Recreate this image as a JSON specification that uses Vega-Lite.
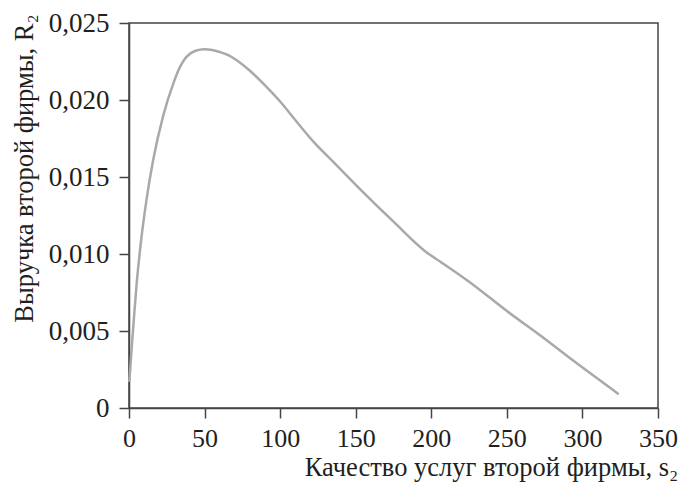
{
  "$schema": "https://vega.github.io/schema/vega-lite/v6.json",
  "autosize": "none",
  "width": 529,
  "height": 385,
  "padding": {"left": 129, "top": 23, "right": 24, "bottom": 84},
  "background": "white",
  "data": {"values": [
    {"s": 0.2, "R": 0.0017},
    {"s": 1, "R": 0.0028},
    {"s": 2, "R": 0.0042},
    {"s": 3, "R": 0.0055},
    {"s": 5, "R": 0.0080},
    {"s": 8.4, "R": 0.0112},
    {"s": 11.7, "R": 0.0136},
    {"s": 16, "R": 0.0161},
    {"s": 22.7, "R": 0.0190},
    {"s": 29.4, "R": 0.0211},
    {"s": 34, "R": 0.0222},
    {"s": 38, "R": 0.0228},
    {"s": 44, "R": 0.0232},
    {"s": 50, "R": 0.0233},
    {"s": 55, "R": 0.02325},
    {"s": 60, "R": 0.02312},
    {"s": 66, "R": 0.0229},
    {"s": 71, "R": 0.0226},
    {"s": 80, "R": 0.0219},
    {"s": 90, "R": 0.02095},
    {"s": 100, "R": 0.0199},
    {"s": 110, "R": 0.0187},
    {"s": 122, "R": 0.0173},
    {"s": 135, "R": 0.0160},
    {"s": 153, "R": 0.0142},
    {"s": 175, "R": 0.0121},
    {"s": 197, "R": 0.0101},
    {"s": 206, "R": 0.0095},
    {"s": 225, "R": 0.0082},
    {"s": 250, "R": 0.0063},
    {"s": 275, "R": 0.0045},
    {"s": 295, "R": 0.0030},
    {"s": 324, "R": 0.0009}
  ]},
  "mark": {"type": "line", "color": "#a7a9ac", "strokeWidth": 2.5, "interpolate": "monotone"},
  "encoding": {
    "x": {
      "field": "s", "type": "quantitative",
      "scale": {"domain": [0, 350], "nice": false, "zero": false},
      "axis": {
        "values": [0, 50, 100, 150, 200, 250, 300, 350],
        "labelFlush": false,
        "labelFontSize": 26,
        "title": "Качество услуг второй фирмы, s₂",
        "titleAlign": "center", "titleAnchor": null,
        "titleX": 362, "titleY": 67, "titleBaseline": "alphabetic",
        "labelPadding": 7
      }
    },
    "y": {
      "field": "R", "type": "quantitative",
      "scale": {"domain": [0, 0.025], "nice": false},
      "axis": {
        "values": [0, 0.005, 0.01, 0.015, 0.02, 0.025],
        "labelFlush": false,
        "labelExpr": "datum.value == 0 ? '0' : replace(format(datum.value, '.3f'), '.', ',')",
        "title": "Выручка второй фирмы, R₂",
        "titleAlign": "center", "titleAngle": -90,
        "titleX": -97, "titleY": 145, "titleBaseline": "alphabetic",
        "labelPadding": 10
      }
    }
  },
  "config": {
    "font": "Liberation Serif",
    "view": {"stroke": "#444", "strokeWidth": 1.5},
    "axis": {
      "grid": false,
      "domainColor": "#444", "domainWidth": 1.5,
      "tickColor": "#444", "tickWidth": 1.5, "tickSize": 10,
      "labelFont": "Liberation Serif", "labelFontSize": 27, "labelColor": "#231f20",
      "titleFont": "Liberation Serif", "titleFontSize": 26.5, "titleFontWeight": "normal", "titleColor": "#231f20",
      "labelOverlap": false
    }
  }
}
